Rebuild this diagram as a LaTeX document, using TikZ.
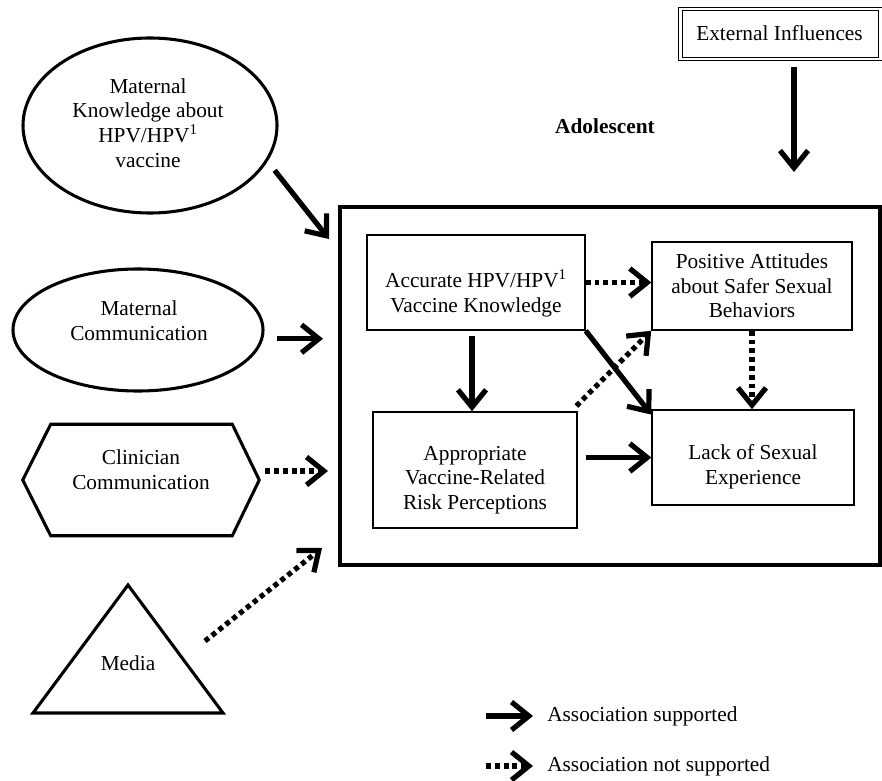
\documentclass[tikz,border=0pt]{standalone}
\usepackage{fontspec}
\setmainfont{Liberation Serif}
\usetikzlibrary{arrows.meta,shapes.geometric}
\begin{document}
\begin{tikzpicture}[x=0.75pt,y=-0.75pt,
  txt/.style={font=\fontsize{16}{18.5}\selectfont, align=center, inner sep=0pt},
  thinbox/.style={draw, line width=1.1pt, inner sep=0pt},
  thickshape/.style={draw, line width=2.3pt},
  sol/.style={line width=3.9pt, -{Straight Barb[length=13pt,width=21pt]}},
  dot/.style={sol, dash pattern=on 3.7pt off 2.9pt},
]
\useasboundingbox (0,0) rectangle (882,781);

% External influences
\node[draw, line width=0.8pt, double, double distance=1.6pt, inner sep=0pt,
      minimum width=150pt, minimum height=37pt] (ext) at (780.5,34) {};
\node[txt] (exttext) at (779.5,33) {External Influences};
\coordinate (extTip) at (794,172);
\draw[sol] (ext.south -| extTip) ++(0,8) -- (extTip);

\node[txt, font=\fontsize{16}{18.5}\selectfont\bfseries] (adol) at (605,126) {Adolescent};

% Big adolescent box
\node[thickshape, minimum width=405pt, minimum height=268.5pt] (big) at (610,386) {};

% inner boxes
\node[thinbox, minimum width=163.5pt, minimum height=71.25pt] (acc) at (476,282.5) {};
\node[txt] (acctext) at (476,293) {Accurate HPV/HPV\textsuperscript{1}\\Vaccine Knowledge};
\node[thinbox, minimum width=150pt, minimum height=66pt] (pos) at (752,286) {};
\node[txt] (postext) at (752,286) {Positive Attitudes\\about Safer Sexual\\Behaviors};
\node[thinbox, minimum width=153pt, minimum height=87pt] (app) at (475,470) {};
\node[txt] (apptext) at (475,480) {Appropriate\\Vaccine-Related\\Risk Perceptions};
\node[thinbox, minimum width=151.5pt, minimum height=71.25pt] (lack) at (753,457.5) {};
\node[txt] (lacktext) at (753,467) {Lack of Sexual\\Experience};

% Maternal knowledge ellipse
\node[ellipse, thickshape, inner sep=0pt, minimum width=190.5pt, minimum height=131.25pt] (mk) at (150,125.5) {};
\node[txt] (mktext) at (148,123) {Maternal\\Knowledge about\\HPV/HPV\textsuperscript{1}\\vaccine};
% Maternal communication ellipse
\node[ellipse, thickshape, inner sep=0pt, minimum width=187.5pt, minimum height=91.5pt] (mc) at (138,330) {};
\node[txt] (mctext) at (139,320.5) {Maternal\\Communication};

% Clinician hexagon
\node[inner sep=0pt, minimum width=177pt, minimum height=83.25pt] (cc) at (141,480) {};
\draw[thickshape, line join=miter] (cc.west) -- ([xshift=21pt]cc.north west) -- ([xshift=-20.25pt]cc.north east)
  -- (cc.east) -- ([xshift=-20.25pt]cc.south east) -- ([xshift=21pt]cc.south west) -- cycle;
\node[txt] (cctext) at (141,470) {Clinician\\Communication};

% Media triangle
\coordinate (tA) at (128,585);
\coordinate (tB) at (223,713);
\coordinate (tC) at (33,713);
\draw[thickshape, line join=miter] (tA) -- (tB) -- (tC) -- cycle;
\node[txt] (media) at (128,663) {Media};

% tips at the big box
\coordinate (mkTip) at (329,239);
\coordinate (mcTip) at (323,339);
\coordinate (ccTip) at (328,471);
\coordinate (mdTip) at (322,548);
\coordinate (mdOut) at (205,641);

\draw[sol, shorten <=8.5pt] (mk.-17) -- (mkTip);
\draw[sol, shorten <=10pt] (mc.-4) -- (mc.-4 -| mcTip);
\draw[dot, shorten <=4.5pt] (cc.east |- ccTip) -- (ccTip);
\draw[dot] (mdOut) -- (mdTip);

% inner arrows
\draw[dot] (acc.east) -- (acc.east -| pos.west);
\draw[sol, shorten <=3.75pt] ([xshift=-3pt]acc.south) -- ([xshift=-3pt]acc.south |- app.north);
\draw[sol] (acc.south east) -- ([yshift=-4pt]lack.north west);
\draw[dot] ([xshift=-1pt,yshift=4pt]app.north east) -- (pos.south west);
\draw[dot] (pos.south) -- (pos.south |- lack.north);
\draw[sol, shorten <=6pt] (app.east |- lack.west) -- (lack.west);

% legend
\node[txt, anchor=west] (leg1) at (547,716) {Association supported};
\node[txt, anchor=west] (leg2) at (547,766) {Association not supported};
\draw[sol] ([xshift=-45.75pt]leg1.west) -- ([xshift=-10.5pt]leg1.west);
\draw[dot] ([xshift=-45.75pt]leg2.west) -- ([xshift=-10.5pt]leg2.west);
\end{tikzpicture}
\end{document}
